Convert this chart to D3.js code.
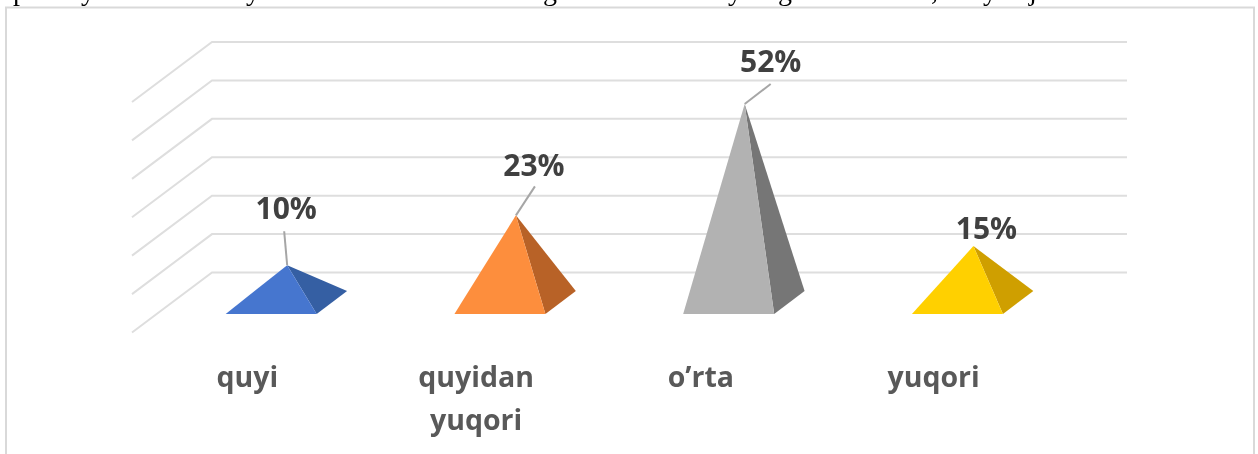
<!DOCTYPE html>
<html lang="en">
<head>
    <meta charset="UTF-8">
    <title>Document</title>
    <script src="https://d3js.org/d3.v7.min.js"></script>
    <style>
        html, body { margin: 0; padding: 0; background: #fff; overflow: hidden; }
        svg { display: block; filter: blur(0.4px); }
    </style>
</head>
<body>
    <div class="chart"></div>
    <script>
        const categories = ["quyi", "quyidan yuqori", "o’rta", "yuqori"];
        const values = [10, 23, 52, 15];
        const gridTicks = [0, 10, 20, 30, 40, 50, 60];
        const frontColors = ["#4676cf", "#fd8e3d", "#b2b2b2", "#ffd000"];
        const sideColors = ["#355fa3", "#b86227", "#767676", "#cf9f00"];

        // bottoms of the cropped line of document text above the chart
        const cutLetters = ["p", "y", "y", "g", "y", "g", ",", "y", "j"];
        const cutLetterX = [13, 81, 246, 543, 728, 778, 931, 983, 1029];

        const w = 1258, h = 454;
        const depth = { x: 80, y: 60 };
        const baseHalf = 45.5;
        const zFront = 0.31, zBack = 0.69;

        const svg = d3.select(".chart").append("svg").attr("width", w).attr("height", h);

        // back wall
        const xScale = d3.scaleBand().domain(categories).range([212, 1127]);
        const yScale = d3.scaleLinear().domain([0, 60]).range([272.5, 42]);
        const mid = c => xScale(c) + xScale.bandwidth() / 2;

        // floor coordinates, z = 0 front edge, z = 1 back wall
        const floorX = (c, z) => mid(c) - depth.x * (1 - z);
        const floorY = z => yScale(0) + depth.y * (1 - z);

        svg.append("clipPath").attr("id", "topcut")
            .append("rect").attr("width", w).attr("height", 6);
        svg.append("g").attr("clip-path", "url(#topcut)")
            .selectAll("text").data(cutLetters).enter().append("text")
            .attr("x", (d, i) => cutLetterX[i])
            .attr("y", 0)
            .attr("font-family", "'Liberation Serif'")
            .attr("font-size", 28)
            .attr("fill", "#000")
            .text(d => d);

        svg.append("rect")
            .attr("x", 6).attr("y", 7.5)
            .attr("width", 1248).attr("height", 470)
            .attr("fill", "none")
            .attr("stroke", "#d9d9d9")
            .attr("stroke-width", 2);

        // gridlines on the wall and the side
        const grid = svg.append("g")
            .attr("fill", "none")
            .attr("stroke", "#dedede")
            .attr("stroke-width", 2);
        const gridLine = d3.line();
        grid.selectAll("path").data(gridTicks).enter().append("path")
            .attr("d", d => gridLine([
                [xScale.range()[0] - depth.x, yScale(d) + depth.y],
                [xScale.range()[0], yScale(d)],
                [xScale.range()[1], yScale(d)]
            ]));

        const rows = categories.map((c, i) => ({ c: c, v: values[i], i: i }));
        const apex = d => [floorX(d.c, 0.51), floorY(0.48) - (yScale(0) - yScale(d.v))];
        const line = d3.line();

        // data label leaders, relative to the apex
        const leaderEnd = [[-3, -34], [19, -29], [26, -20], null];
        const labelOffset = [[-1, -57], [18, -50], [26, -43], [13, -18]];
        const catNudge = [0, 0, -4, 0];

        const pyramids = svg.append("g").selectAll("g").data(rows).enter().append("g");
        pyramids.append("path")
            .attr("fill", d => sideColors[d.i])
            .attr("d", d => line([
                [floorX(d.c, zFront) + baseHalf, floorY(zFront)],
                [floorX(d.c, zBack) + baseHalf, floorY(zBack)],
                apex(d)
            ]) + "Z");
        pyramids.append("path")
            .attr("fill", d => frontColors[d.i])
            .attr("d", d => line([
                [floorX(d.c, zFront) - baseHalf, floorY(zFront)],
                [floorX(d.c, zFront) + baseHalf, floorY(zFront)],
                apex(d)
            ]) + "Z");

        svg.append("g").selectAll("path")
            .data(rows.filter(d => leaderEnd[d.i])).enter().append("path")
            .attr("fill", "none")
            .attr("stroke", "#a6a6a6")
            .attr("stroke-width", 2)
            .attr("d", d => {
                const a = apex(d);
                return line([a, [a[0] + leaderEnd[d.i][0], a[1] + leaderEnd[d.i][1]]]);
            });

        svg.append("g").selectAll("text").data(rows).enter().append("text")
            .attr("x", d => apex(d)[0] + labelOffset[d.i][0])
            .attr("y", d => apex(d)[1] + labelOffset[d.i][1])
            .attr("dy", "0.36em")
            .attr("text-anchor", "middle")
            .attr("font-family", "'Open Sans'")
            .attr("font-weight", 700)
            .attr("font-size", 30)
            .attr("fill", "#404040")
            .text(d => d.v + "%");

        // category labels sit under the front edge of the floor
        const catLabels = svg.append("g").selectAll("text").data(rows).enter().append("text")
            .attr("text-anchor", "middle")
            .attr("font-family", "'Open Sans'")
            .attr("font-weight", 700)
            .attr("font-size", 28.5)
            .attr("fill", "#595959");
        catLabels.selectAll("tspan")
            .data(d => d.c.split(" ").map(t => ({ t: t, c: d.c, i: d.i })))
            .enter().append("tspan")
            .attr("x", d => floorX(d.c, 0) + 1 + catNudge[d.i])
            .attr("y", (d, i) => 387 + i * 43)
            .text(d => d.t);
    </script>
</body>
</html>
